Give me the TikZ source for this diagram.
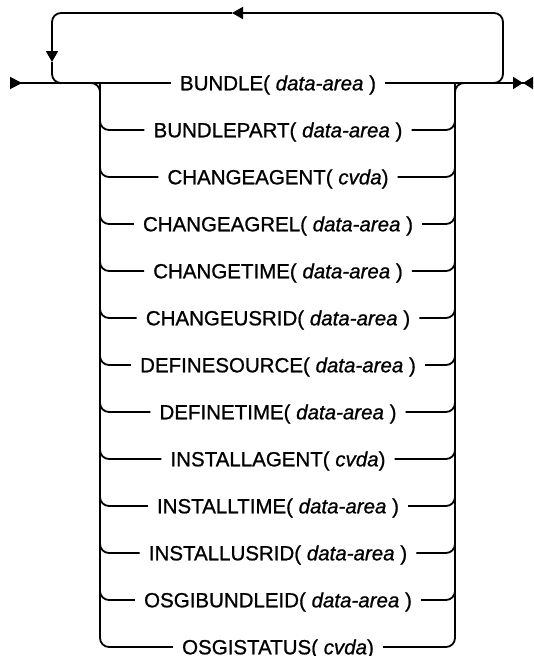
\documentclass[tikz,border=0pt]{standalone}
\usepackage{fontspec}
\newfontfamily\synfont[FakeBold=0.9]{Liberation Sans}
\usetikzlibrary{arrows.meta}
\tikzset{
  % syntax line
  rail/.style={line width=1.8pt, line cap=butt},
  rc/.style={rail, rounded corners=9pt},
  % keyword item on a branch
  item/.style={font=\synfont\fontsize{20.5}{24}\selectfont, inner xsep=9pt, inner ysep=0pt,
    text height=14.6pt, text depth=0pt},
  tipin/.style={{Triangle[length=12pt,width=12pt,reversed]}-},
  tipout/.style={-{Triangle[length=10pt,width=12pt]Triangle[length=10pt,width=12pt,reversed]}},
  tipmid/.style={-{Triangle[length=11pt,width=12pt]}},
}
\newcommand{\da}{\textit{data-area}}
\newcommand{\cv}{\textit{cvda}}

\begin{document}
\begin{tikzpicture}[x=1pt, y=-1pt]
  \useasboundingbox (0,0) rectangle (533,656);

  %% ---- end points and bars ----
  \coordinate (start) at (10,83);
  \coordinate (finish) at (533,83);
  \coordinate (lbar) at (100,83);
  \coordinate (rbar) at (455,83);

  %% ---- branches ----
  \foreach \txt [count=\i] in {
      {BUNDLE( \da\ )}, {BUNDLEPART( \da\ )}, {CHANGEAGENT( \cv)},
      {CHANGEAGREL( \da\ )}, {CHANGETIME( \da\ )}, {CHANGEUSRID( \da\ )},
      {DEFINESOURCE( \da\ )}, {DEFINETIME( \da\ )}, {INSTALLAGENT( \cv)},
      {INSTALLTIME( \da\ )}, {INSTALLUSRID( \da\ )}, {OSGIBUNDLEID( \da\ )},
      {OSGISTATUS( \cv)}}{
    \node[item] (r\i) at (278,{83+47*(\i-1)}) {\txt};
  }

  %% Main line
  \draw[rail, tipin] (start) -- (r1.west);
  \draw[rail, tipout] (r1.east) -- (finish);

  %% Left and right bars
  \draw[rc] (88,83) -- (lbar) -- (lbar |- r13.west) -- (r13.west);
  \draw[rc] (r13.east) -- (rbar |- r13.east) -- (rbar) -- (467,83);
  \foreach \i in {2,...,12}{
    \pgfmathtruncatemacro{\p}{\i-1}
    \draw[rc] (lbar |- r\p.west) |- (r\i.west);
    \draw[rc] (r\i.east) -| (rbar |- r\p.east);
  }

  %% Repeat loop
  \coordinate (back) at (232,13);
  \coordinate (down) at (52,62);
  \draw[rc, tipmid] (488,83) -| (503,13) -- (back);
  \draw[rc, tipmid] (back) -| (down);
  \draw[rc] (down) |- (80,83);

\end{tikzpicture}
\end{document}
